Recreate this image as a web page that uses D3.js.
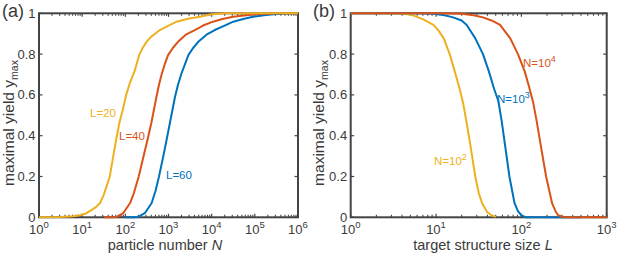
<!DOCTYPE html>
<html><head><meta charset="utf-8">
<script src="https://cdn.jsdelivr.net/npm/d3@7"></script>
<style>body{margin:0;background:#fff}svg{display:block}text{font-family:"Liberation Sans",Arial,Helvetica,sans-serif;fill:#3a3a3a}</style>
</head><body><svg id="c" width="617" height="253"></svg>
<script>
// ---------- data (x values given as log10 exponents) ----------
const yTicks = [0, 0.2, 0.4, 0.6, 0.8, 1];
const yTickLabels = ["0", "0.2", "0.4", "0.6", "0.8", "1"];
const xTicksA = [0, 1, 2, 3, 4, 5, 6];   // exponents of 10
const xTicksB = [0, 1, 2, 3];

// panel (a): yield vs particle number N
const a_L20_logN = [0, 0.5, 0.8, 0.95, 1.1, 1.22, 1.32, 1.41, 1.5, 1.57, 1.64, 1.72, 1.8, 1.87, 1.94, 2.02, 2.1, 2.22, 2.32, 2.4, 2.49, 2.6, 2.8, 3.0, 3.19, 3.45, 3.73, 4.0, 4.3, 5, 5.5, 6];
const a_L20_y    = [0, 0.002, 0.005, 0.01, 0.02, 0.036, 0.05, 0.069, 0.11, 0.155, 0.2, 0.3, 0.395, 0.47, 0.526, 0.6, 0.655, 0.72, 0.795, 0.83, 0.86, 0.885, 0.918, 0.94, 0.959, 0.973, 0.983, 0.995, 1, 1, 1, 1];
const a_L40_logN = [1.5, 1.7, 1.8, 1.95, 2.11, 2.2, 2.31, 2.4, 2.53, 2.6, 2.66, 2.72, 2.78, 2.84, 2.92, 2.99, 3.1, 3.22, 3.4, 3.61, 3.8, 4.03, 4.25, 4.5, 5, 5.5, 6];
const a_L40_y    = [0, 0, 0.002, 0.02, 0.07, 0.12, 0.2, 0.28, 0.395, 0.46, 0.525, 0.59, 0.65, 0.7, 0.755, 0.795, 0.83, 0.86, 0.895, 0.918, 0.94, 0.959, 0.972, 0.983, 0.995, 1, 1];
const a_L60_logN = [2.0, 2.2, 2.3, 2.45, 2.61, 2.7, 2.78, 2.88, 2.97, 3.03, 3.09, 3.15, 3.22, 3.3, 3.38, 3.46, 3.57, 3.69, 3.88, 4.07, 4.3, 4.5, 4.73, 4.96, 5.3, 5.6, 6];
const a_L60_y    = [0, 0, 0.002, 0.02, 0.07, 0.13, 0.2, 0.3, 0.395, 0.46, 0.525, 0.59, 0.65, 0.705, 0.75, 0.795, 0.83, 0.86, 0.895, 0.918, 0.94, 0.959, 0.972, 0.983, 0.993, 0.998, 1];

// panel (b): yield vs target structure size L
const b_N2_logL = [0, 0.3, 0.5, 0.65, 0.73, 0.85, 0.97, 1.03, 1.09, 1.16, 1.22, 1.27, 1.32, 1.36, 1.40, 1.46, 1.50, 1.54, 1.6, 1.65, 1.7];
const b_N2_y    = [1, 1, 1, 0.997, 0.99, 0.97, 0.943, 0.915, 0.877, 0.8, 0.714, 0.64, 0.555, 0.46, 0.36, 0.2, 0.12, 0.069, 0.025, 0.01, 0.002];
const b_N3_logL = [0, 0.5, 0.8, 0.97, 1.1, 1.2, 1.3, 1.36, 1.46, 1.55, 1.62, 1.68, 1.73, 1.77, 1.8, 1.86, 1.92, 1.96, 2.0, 2.05, 2.3, 2.7];
const b_N3_y    = [1, 1, 1, 0.998, 0.99, 0.98, 0.965, 0.943, 0.877, 0.8, 0.714, 0.63, 0.57, 0.47, 0.38, 0.2, 0.069, 0.03, 0.01, 0, 0, 0];
const b_N4_logL = [0, 0.5, 1.0, 1.3, 1.44, 1.55, 1.65, 1.75, 1.87, 1.96, 2.04, 2.09, 2.14, 2.18, 2.22, 2.29, 2.36, 2.4, 2.43, 2.5, 2.7, 3];
const b_N4_y    = [1, 1, 1, 0.998, 0.99, 0.98, 0.965, 0.943, 0.877, 0.8, 0.714, 0.64, 0.56, 0.47, 0.37, 0.2, 0.069, 0.03, 0.01, 0, 0, 0];

const cYellow = "#EDB120", cRed = "#D95319", cBlue = "#0072BD";
const axisColor = "#444";

const svg = d3.select("#c");

function panel(opt) {
  const x = d3.scaleLog().domain(opt.xdom).range([opt.x0, opt.x1]);
  const y = d3.scaleLinear().domain([0, 1]).range([217.3, 13.3]);
  const g = svg.append("g");
  // box
  g.append("rect").attr("x", opt.x0).attr("y", 13.3).attr("width", opt.x1 - opt.x0).attr("height", 204)
    .attr("fill", "none").attr("stroke", axisColor).attr("stroke-width", 2);
  // y ticks left & right
  yTicks.forEach((t, i) => {
    const yy = y(t);
    g.append("line").attr("x1", opt.x0).attr("x2", opt.x0 + 3.5).attr("y1", yy).attr("y2", yy).attr("stroke", axisColor).attr("stroke-width", 1.2);
    g.append("line").attr("x1", opt.x1).attr("x2", opt.x1 - 3.5).attr("y1", yy).attr("y2", yy).attr("stroke", axisColor).attr("stroke-width", 1.2);
    g.append("text").attr("x", opt.x0 - 3.5).attr("y", yy + 4.4).attr("text-anchor", "end").attr("font-size", 13).text(yTickLabels[i]);
  });
  // x ticks major + minor, top & bottom
  const dec = opt.xticks;
  dec.forEach((e, i) => {
    const xx = x(Math.pow(10, e));
    [[217.3, -3.5], [13.3, 3.5]].forEach(([b, d]) => {
      g.append("line").attr("x1", xx).attr("x2", xx).attr("y1", b).attr("y2", b + d).attr("stroke", axisColor).attr("stroke-width", 1.2);
    });
    const t = g.append("text").attr("x", xx).attr("y", 233.5).attr("text-anchor", "middle").attr("font-size", 13);
    t.append("tspan").text("10");
    t.append("tspan").attr("dy", -5.5).attr("font-size", 9.5).text(String(e));
    if (i < dec.length - 1) {
      for (let m = 2; m <= 9; m++) {
        const xm = x(m * Math.pow(10, e));
        [[217.3, -2.5], [13.3, 2.5]].forEach(([b, d]) => {
          g.append("line").attr("x1", xm).attr("x2", xm).attr("y1", b).attr("y2", b + d).attr("stroke", axisColor).attr("stroke-width", 1.1);
        });
      }
    }
  });
  // axis labels
  const xl = g.append("text").attr("x", opt.xlabX).attr("y", 249.5).attr("text-anchor", "middle").attr("font-size", 14.5);
  xl.append("tspan").text(opt.xlabel);
  xl.append("tspan").attr("font-style", "italic").text(opt.xvar);
  const yl = g.append("text").attr("transform", `translate(${opt.ylabX},123) rotate(-90)`).attr("text-anchor", "middle").attr("font-size", 15.5);
  yl.append("tspan").text("maximal yield y");
  yl.append("tspan").attr("dy", 4).attr("font-size", 10.5).text("max");
  g.append("text").attr("x", opt.tagX).attr("y", 17).attr("font-size", 18).text(opt.tag);
  // curves
  const line = d3.line().x(d => x(Math.pow(10, d[0]))).y(d => y(d[1]));
  opt.series.forEach(s => {
    const pts = s.xs.map((v, i) => [v, s.ys[i]]);
    g.append("path").attr("d", line(pts)).attr("fill", "none").attr("stroke", s.color).attr("stroke-width", 2).attr("stroke-linejoin", "round");
  });
  opt.labels.forEach(l => {
    const t = g.append("text").attr("x", l.x).attr("y", l.y).attr("font-size", 11.5).style("fill", l.color);
    t.append("tspan").text(l.text);
    if (l.sup) t.append("tspan").attr("dy", -5).attr("font-size", 9).text(l.sup);
  });
}

panel({
  x0: 39, x1: 298, xdom: [1, 1e6], xticks: xTicksA,
  xlabel: "particle number ", xvar: "N", xlabX: 165, ylabX: 14, tag: "(a)", tagX: 2,
  series: [
    { xs: a_L60_logN, ys: a_L60_y, color: cBlue },
    { xs: a_L40_logN, ys: a_L40_y, color: cRed },
    { xs: a_L20_logN, ys: a_L20_y, color: cYellow }
  ],
  labels: [
    { x: 90, y: 117, text: "L=20", color: cYellow },
    { x: 119, y: 140, text: "L=40", color: cRed },
    { x: 166, y: 179, text: "L=60", color: cBlue }
  ]
});

panel({
  x0: 350.7, x1: 606.7, xdom: [1, 1e3], xticks: xTicksB,
  xlabel: "target structure size ", xvar: "L", xlabX: 483, ylabX: 324, tag: "(b)", tagX: 313,
  series: [
    { xs: b_N2_logL, ys: b_N2_y, color: cYellow },
    { xs: b_N3_logL, ys: b_N3_y, color: cBlue },
    { xs: b_N4_logL, ys: b_N4_y, color: cRed }
  ],
  labels: [
    { x: 523, y: 67, text: "N=10", sup: "4", color: cRed },
    { x: 497, y: 103, text: "N=10", sup: "3", color: cBlue },
    { x: 434, y: 165, text: "N=10", sup: "2", color: cYellow }
  ]
});
</script></body></html>
